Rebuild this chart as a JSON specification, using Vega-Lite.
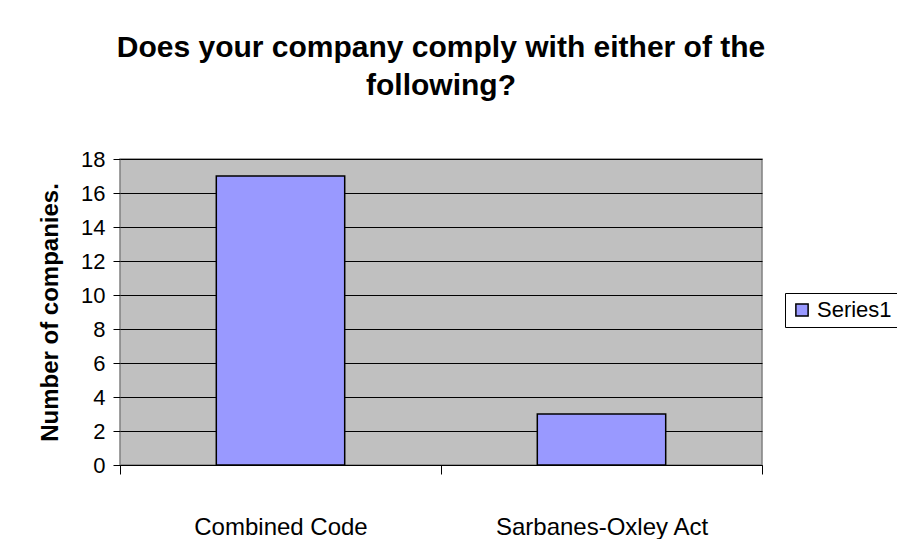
{
  "$schema": "https://vega.github.io/schema/vega-lite/v6.json",
  "autosize": "none",
  "width": 642,
  "height": 306,
  "padding": {"left": 120, "top": 159, "right": 135, "bottom": 74},
  "background": "white",
  "title": {
    "text": ["Does your company comply with either of the", "following?"],
    "font": "Liberation Sans",
    "fontSize": 30,
    "fontWeight": "bold",
    "color": "black",
    "lineHeight": 38,
    "anchor": "middle",
    "offset": 47
  },
  "data": {
    "values": [
      {"category": "Combined Code", "companies": 17, "series": "Series1"},
      {"category": "Sarbanes-Oxley Act", "companies": 3, "series": "Series1"}
    ]
  },
  "mark": {"type": "bar", "stroke": "black", "strokeWidth": 1.5, "width": {"band": 0.4}},
  "encoding": {
    "x": {
      "field": "category",
      "type": "nominal",
      "sort": null,
      "scale": {"paddingInner": 0, "paddingOuter": 0},
      "axis": {
        "title": null,
        "labelAngle": 0,
        "labelLimit": 0,
        "tickBand": "extent",
        "domainColor": "black",
        "tickColor": "black",
        "tickSize": 9,
        "labelPadding": 41,
        "labelFont": "Liberation Sans",
        "labelFontSize": 24,
        "labelColor": "black",
        "grid": false
      }
    },
    "y": {
      "field": "companies",
      "type": "quantitative",
      "scale": {"domain": [0, 18], "nice": false},
      "axis": {
        "title": "Number of companies.",
        "values": [0, 2, 4, 6, 8, 10, 12, 14, 16, 18],
        "domain": false,
        "grid": true,
        "gridColor": "black",
        "gridOpacity": 1,
        "gridWidth": 1,
        "tickColor": "black",
        "tickSize": 7,
        "labelPadding": 8,
        "labelFont": "Liberation Sans",
        "labelFontSize": 22,
        "labelColor": "black",
        "titleFont": "Liberation Sans",
        "titleFontSize": 24,
        "titleFontWeight": "bold",
        "titleColor": "black",
        "titlePadding": 18
      }
    },
    "color": {
      "field": "series",
      "type": "nominal",
      "scale": {"range": ["#9999FF"]},
      "legend": {
        "title": null,
        "orient": "none",
        "legendX": 665,
        "legendY": 134,
        "symbolType": "square",
        "symbolSize": 150,
        "symbolStrokeColor": "black",
        "symbolStrokeWidth": 1.5,
        "symbolOpacity": 1,
        "labelFont": "Liberation Sans",
        "labelFontSize": 22,
        "labelColor": "black",
        "labelLimit": 0,
        "strokeColor": "black",
        "padding": 6,
        "labelOffset": 4
      }
    }
  },
  "config": {
    "view": {"fill": "#C0C0C0", "stroke": "#808080", "strokeWidth": 1.5}
  }
}
